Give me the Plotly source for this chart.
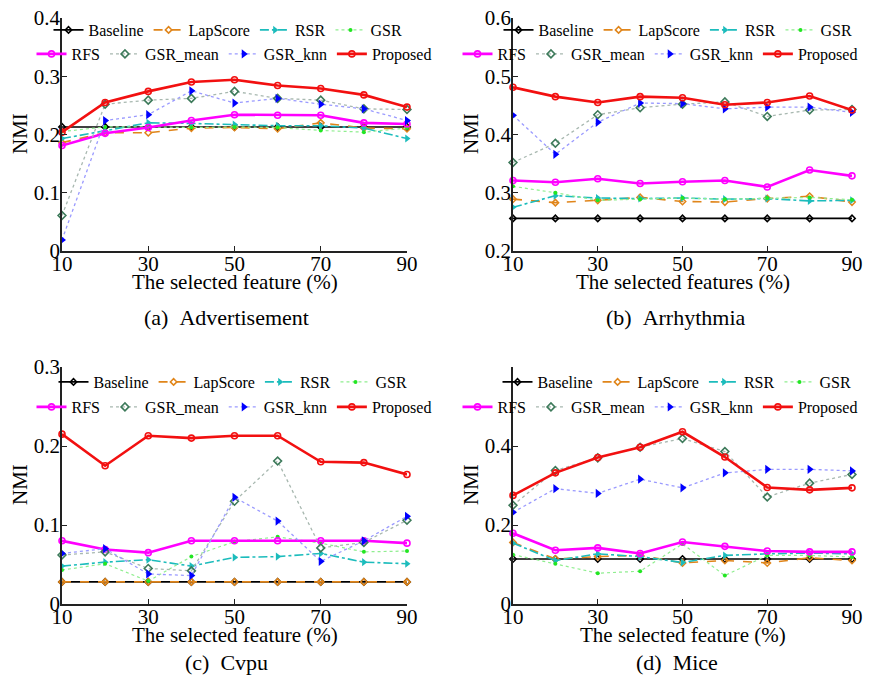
import plotly.graph_objects as go

x_pct = [10, 20, 30, 40, 50, 60, 70, 80, 90]
methods = ["Baseline", "LapScore", "RSR", "GSR", "RFS", "GSR_mean", "GSR_knn", "Proposed"]

# (a) Advertisement
adv_baseline = [0.213, 0.213, 0.213, 0.213, 0.213, 0.213, 0.213, 0.213, 0.213]
adv_lapscore = [0.186, 0.203, 0.203, 0.211, 0.212, 0.210, 0.220, 0.211, 0.210]
adv_rsr = [0.193, 0.206, 0.220, 0.219, 0.217, 0.215, 0.215, 0.211, 0.193]
adv_gsr = [0.205, 0.213, 0.213, 0.212, 0.213, 0.212, 0.207, 0.204, 0.211]
adv_rfs = [0.181, 0.202, 0.212, 0.224, 0.234, 0.233, 0.233, 0.220, 0.218]
adv_gsr_mean = [0.061, 0.252, 0.259, 0.262, 0.274, 0.262, 0.259, 0.244, 0.243]
adv_gsr_knn = [0.019, 0.224, 0.234, 0.275, 0.254, 0.262, 0.252, 0.244, 0.224]
adv_proposed = [0.204, 0.255, 0.274, 0.290, 0.294, 0.284, 0.279, 0.268, 0.247]

# (b) Arrhythmia
arr_baseline = [0.256, 0.256, 0.256, 0.256, 0.256, 0.256, 0.256, 0.256, 0.256]
arr_lapscore = [0.289, 0.283, 0.287, 0.292, 0.285, 0.284, 0.290, 0.294, 0.284]
arr_rsr = [0.275, 0.295, 0.291, 0.290, 0.291, 0.289, 0.290, 0.286, 0.287]
arr_gsr = [0.311, 0.300, 0.287, 0.289, 0.291, 0.289, 0.291, 0.292, 0.288]
arr_rfs = [0.321, 0.318, 0.324, 0.316, 0.319, 0.321, 0.310, 0.339, 0.329]
arr_gsr_mean = [0.352, 0.385, 0.434, 0.446, 0.452, 0.456, 0.431, 0.442, 0.443]
arr_gsr_knn = [0.433, 0.366, 0.421, 0.454, 0.453, 0.444, 0.447, 0.447, 0.438]
arr_proposed = [0.481, 0.465, 0.455, 0.465, 0.463, 0.451, 0.455, 0.466, 0.442]

# (c) Cvpu
cvp_baseline = [0.028, 0.028, 0.028, 0.028, 0.028, 0.028, 0.028, 0.028, 0.028]
cvp_lapscore = [0.028, 0.028, 0.028, 0.028, 0.028, 0.028, 0.028, 0.028, 0.028]
cvp_rsr = [0.048, 0.053, 0.056, 0.048, 0.059, 0.060, 0.064, 0.053, 0.051]
cvp_gsr = [0.043, 0.051, 0.029, 0.060, 0.079, 0.085, 0.077, 0.066, 0.067]
cvp_rfs = [0.080, 0.069, 0.065, 0.080, 0.080, 0.080, 0.080, 0.080, 0.077]
cvp_gsr_mean = [0.062, 0.066, 0.045, 0.042, 0.130, 0.181, 0.071, 0.078, 0.106]
cvp_gsr_knn = [0.064, 0.070, 0.038, 0.036, 0.135, 0.105, 0.054, 0.080, 0.111]
cvp_proposed = [0.215, 0.175, 0.213, 0.210, 0.213, 0.213, 0.180, 0.179, 0.164]

# (d) Mice
mic_baseline = [0.114, 0.114, 0.114, 0.114, 0.114, 0.114, 0.114, 0.114, 0.114]
mic_lapscore = [0.156, 0.114, 0.120, 0.123, 0.104, 0.110, 0.104, 0.117, 0.110]
mic_rsr = [0.154, 0.110, 0.127, 0.120, 0.105, 0.123, 0.127, 0.129, 0.127]
mic_gsr = [0.125, 0.102, 0.078, 0.083, 0.152, 0.072, 0.123, 0.123, 0.119]
mic_rfs = [0.179, 0.136, 0.142, 0.128, 0.157, 0.146, 0.134, 0.132, 0.132]
mic_gsr_mean = [0.250, 0.338, 0.370, 0.397, 0.419, 0.386, 0.271, 0.306, 0.328]
mic_gsr_knn = [0.232, 0.292, 0.280, 0.316, 0.294, 0.332, 0.341, 0.341, 0.337]
mic_proposed = [0.275, 0.332, 0.371, 0.397, 0.436, 0.372, 0.295, 0.289, 0.294]

x_tick_vals = [10, 30, 50, 70, 90]
captions = ["(a)\u00a0\u00a0Advertisement", "(b)\u00a0\u00a0Arrhythmia", "(c)\u00a0\u00a0Cvpu", "(d)\u00a0\u00a0Mice"]
x_titles = ["The selected feature (%)", "The selected features (%)",
            "The selected feature (%)", "The selected feature (%)"]

panels = [
    [adv_baseline, adv_lapscore, adv_rsr, adv_gsr, adv_rfs, adv_gsr_mean, adv_gsr_knn, adv_proposed],
    [arr_baseline, arr_lapscore, arr_rsr, arr_gsr, arr_rfs, arr_gsr_mean, arr_gsr_knn, arr_proposed],
    [cvp_baseline, cvp_lapscore, cvp_rsr, cvp_gsr, cvp_rfs, cvp_gsr_mean, cvp_gsr_knn, cvp_proposed],
    [mic_baseline, mic_lapscore, mic_rsr, mic_gsr, mic_rfs, mic_gsr_mean, mic_gsr_knn, mic_proposed],
]

styles = {
    "Baseline": dict(line=dict(color="#000000", width=1.6, dash="solid"),
                     marker=dict(symbol="diamond-open", size=5, color="#000000", line=dict(width=1.5))),
    "LapScore": dict(line=dict(color="#e0851a", width=1.6, dash="dash"),
                     marker=dict(symbol="diamond-open", size=5, color="#e0851a", line=dict(width=1.5))),
    "RSR": dict(line=dict(color="#1cbcbc", width=1.6, dash="dashdot"),
                marker=dict(symbol="triangle-right", size=7, color="#1cbcbc")),
    "GSR": dict(line=dict(color="#90ee90", width=1.2, dash="dot"),
                marker=dict(symbol="circle", size=4, color="#22e622")),
    "RFS": dict(line=dict(color="#ff00ff", width=2.6, dash="solid"),
                marker=dict(symbol="circle-open", size=6, color="#ff00ff", line=dict(width=1.6))),
    "GSR_mean": dict(line=dict(color="#a8b8b0", width=1.3, dash="dot"),
                     marker=dict(symbol="diamond-open", size=6, color="#3d7a5a", line=dict(width=1.6))),
    "GSR_knn": dict(line=dict(color="#9a9aff", width=1.3, dash="dot"),
                    marker=dict(symbol="triangle-right", size=8, color="#0000ff")),
    "Proposed": dict(line=dict(color="#f21010", width=2.6, dash="solid"),
                     marker=dict(symbol="circle-open", size=6, color="#f21010", line=dict(width=1.6))),
}

# The page body has an 8px margin on every side, so the figure is drawn 8px in
# from the window's corner and is sized so the page does not need to scroll.
OFF = 8
W, H = 872 - 2 * OFF, 685 - 2 * OFF


def px_x(v):
    return (v - OFF) / W


def px_y(v):
    return 1 - (v - OFF) / H


# plot areas in window pixels: (left, right, top, bottom)
areas = [(62, 407, 18, 251), (513, 852, 18, 251), (62, 407, 367, 604), (513, 852, 367, 604)]
y_ranges = [[0, 0.4], [0.2, 0.6], [0, 0.3], [0, 0.6]]
y_ticks = [[0, 0.1, 0.2, 0.3, 0.4], [0.2, 0.3, 0.4, 0.5, 0.6], [0, 0.1, 0.2, 0.3], [0, 0.2, 0.4]]
legend_rows_px = [(30, 54), (30, 54), (382, 407), (382, 407)]
legend_cx_px = [(228, 234), (678, 660), (233, 234), (677, 660)]
caption_px = [(226, 317), (676, 317), (226, 662), (677, 662)]
xtitle_px = [(235, 282), (683, 282), (235, 635), (683, 635)]
ytitle_px = [(20, 134), (471, 134), (20, 485), (471, 485)]

FONT = "Liberation Serif, Times New Roman, Times, serif"
fig = go.Figure()
layout = dict(width=W, height=H, margin=dict(l=0, r=0, t=0, b=0, autoexpand=False),
              paper_bgcolor="white", plot_bgcolor="white",
              font=dict(family=FONT, color="black", size=20), annotations=[])

for p, series in enumerate(panels):
    ax = "" if p == 0 else str(p + 1)
    leg1 = "legend" if p == 0 else "legend%d" % (2 * p + 1)
    leg2 = "legend%d" % (2 * p + 2)
    for i, (name, vals) in enumerate(zip(methods, series)):
        st = styles[name]
        fig.add_trace(go.Scatter(
            x=x_pct, y=vals, name=name, mode="lines+markers",
            line=st["line"], marker=st["marker"], cliponaxis=False,
            xaxis="x" + ax, yaxis="y" + ax,
            legend=leg1 if i < 4 else leg2, showlegend=True))
    l, r, t, b = areas[p]
    layout["xaxis" + ax] = dict(
        domain=[px_x(l), px_x(r)], anchor="y" + ax, range=[10, 90],
        tickvals=x_tick_vals, ticks="inside", ticklen=5, tickwidth=1.2, tickcolor="#222",
        showline=True, linecolor="#222", linewidth=1.6, showgrid=False, zeroline=False,
        ticklabelstandoff=-7, ticklabeloverflow="allow",
        tickfont=dict(family=FONT, size=21, color="black"))
    layout["yaxis" + ax] = dict(
        domain=[px_y(b), px_y(t)], anchor="x" + ax, range=y_ranges[p],
        tickvals=y_ticks[p], ticks="inside", ticklen=5, tickwidth=1.2, tickcolor="#222",
        showline=True, linecolor="#222", linewidth=1.6, showgrid=False, zeroline=False,
        ticklabelstandoff=-4, ticklabeloverflow="allow",
        tickfont=dict(family=FONT, size=21, color="black"))
    for leg, ypx, cxpx in zip([leg1, leg2], legend_rows_px[p], legend_cx_px[p]):
        layout[leg] = dict(orientation="h", x=px_x(cxpx), xanchor="center", y=px_y(ypx), yanchor="middle",
                           bgcolor="rgba(0,0,0,0)", borderwidth=0,
                           font=dict(family=FONT, size=16, color="black"), tracegroupgap=0)
    txp, typ = xtitle_px[p]
    layout["annotations"].append(dict(
        text=x_titles[p], x=px_x(txp), y=px_y(typ), xref="paper", yref="paper",
        xanchor="center", yanchor="middle", showarrow=False,
        font=dict(family=FONT, size=21, color="black")))
    tyx, tyy = ytitle_px[p]
    layout["annotations"].append(dict(
        text="NMI", x=px_x(tyx), y=px_y(tyy), xref="paper", yref="paper", textangle=-90,
        xanchor="center", yanchor="middle", showarrow=False,
        font=dict(family=FONT, size=21, color="black")))
    cxp, cyp = caption_px[p]
    layout["annotations"].append(dict(
        text=captions[p], x=px_x(cxp), y=px_y(cyp), xref="paper", yref="paper",
        xanchor="center", yanchor="middle", showarrow=False,
        font=dict(family=FONT, size=22, color="black")))

fig.update_layout(**layout)
fig.write_html("out.html")
